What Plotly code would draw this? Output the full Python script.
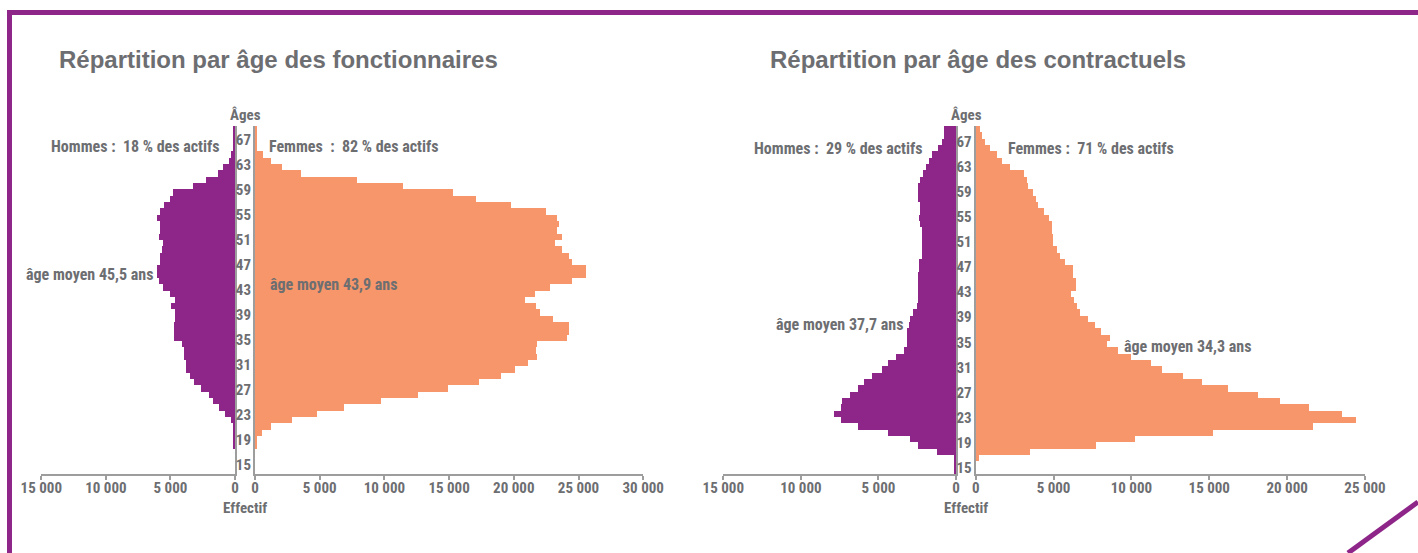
import plotly.graph_objects as go

# ---------------- data ----------------
ages = list(range(69, 14, -1))  # 69 .. 15
age_ticks = list(range(15, 68, 4))

# Fonctionnaires (effectifs)
fonc_hommes = [80, 80, 80, 80, 250, 460, 870, 1290, 2190, 3250,
               4750, 4980, 5450, 5760, 5990, 5800, 5760, 5860, 5580, 5600,
               5760, 5800, 5990, 5990, 5860, 5550, 4980, 4600, 4900, 4600,
               4600, 4730, 4730, 4730, 4100, 3900, 3900, 3740, 3740, 3430,
               3170, 2580, 2010, 1700, 1190, 720, 310, 120, 80, 80,
               80, 0, 0, 0, 0]
fonc_femmes = [100, 100, 120, 150, 600, 1240, 2060, 3560, 7900, 11400,
               15300, 17100, 19800, 22500, 23300, 23500, 23300, 23700, 23200, 23700,
               24300, 24500, 25600, 25600, 24500, 22800, 21600, 20900, 21700, 22000,
               23000, 24300, 24300, 24100, 21800, 21700, 21800, 21100, 20100, 19000,
               17300, 14900, 12600, 9700, 6900, 4800, 2860, 1240, 540, 150,
               150, 0, 0, 0, 0]

# Contractuels (effectifs)
contr_hommes = [750, 750, 860, 1150, 1500, 1720, 1900, 2100, 2320, 2410,
                2410, 2410, 2320, 2280, 2390, 2280, 2200, 2200, 2170, 2200,
                2200, 2390, 2390, 2450, 2450, 2450, 2450, 2450, 2500, 2750,
                2920, 3000, 3140, 3140, 3140, 3350, 3830, 4370, 4750, 5400,
                5940, 6320, 6800, 7300, 7370, 7830, 7370, 6320, 4370, 2930,
                2430, 1210, 120, 120, 120]
contr_femmes = [240, 390, 560, 880, 1350, 1670, 2200, 3100, 3280, 3360,
                3660, 3880, 3960, 4390, 4690, 4860, 4860, 4920, 4920, 5200,
                5370, 5720, 6230, 6230, 6420, 6420, 6120, 6300, 6490, 6680,
                7190, 7640, 8030, 8630, 8440, 9140, 9980, 11260, 11970, 13320,
                14540, 16210, 18140, 19550, 21400, 23530, 24430, 21670, 15250, 10240,
                7730, 3490, 190, 0, 0]

titles = ["Répartition par âge des fonctionnaires", "Répartition par âge des contractuels"]
hommes_txt = ["Hommes :  18 % des actifs", "Hommes :  29 % des actifs"]
femmes_txt = ["Femmes  :  82 % des actifs", "Femmes :  71 % des actifs"]
age_moyen_h = ["âge moyen 45,5 ans", "âge moyen 37,7 ans"]
age_moyen_f = ["âge moyen 43,9 ans", "âge moyen 34,3 ans"]

# ---------------- style ----------------
W, H = 1418, 553
PURPLE = "#8E2589"
ORANGE = "#F6966A"
GREY = "#6D6E71"
LINE = "#9D9D9D"
FONT = "Roboto Condensed, Open Sans Condensed, Roboto, sans-serif"
TFONT = "Liberation Sans, Arial, sans-serif"


def px(x):
    return x / W


def py(y):
    return 1 - y / H


fig = go.Figure()
series = [(fonc_hommes, PURPLE, "x", "y"), (fonc_femmes, ORANGE, "x2", "y2"),
          (contr_hommes, PURPLE, "x3", "y3"), (contr_femmes, ORANGE, "x4", "y4")]
for vals, col, xa, ya in series:
    fig.add_trace(go.Bar(y=ages, x=vals, orientation="h", width=1,
                         marker=dict(color=col, line=dict(width=0)),
                         xaxis=xa, yaxis=ya, showlegend=False, hoverinfo="x+y"))
# empty helper traces so the age-label axes are drawn
for xa, ya in [("x2", "y5"), ("x4", "y6")]:
    fig.add_trace(go.Scatter(x=[], y=[], xaxis=xa, yaxis=ya, showlegend=False, hoverinfo="skip"))

ydom = [py(474), py(126)]
xdoms = {
    "xaxis": ([px(41.3), px(235)], [15000, 0], [0, 5000, 10000, 15000]),
    "xaxis2": ([px(255), px(643.2)], [0, 30000], [0, 5000, 10000, 15000, 20000, 25000, 30000]),
    "xaxis3": ([px(723.3), px(956)], [15000, 0], [0, 5000, 10000, 15000]),
    "xaxis4": ([px(975.7), px(1365)], [0, 25000], [0, 5000, 10000, 15000, 20000, 25000]),
}
tickfont = dict(family=FONT, size=15, color=GREY, weight="bold")
layout = dict(
    template="none",
    width=W, height=H, margin=dict(l=0, r=0, t=0, b=0, pad=0, autoexpand=False),
    paper_bgcolor="white", plot_bgcolor="rgba(0,0,0,0)",
    separators=", ", bargap=0, showlegend=False,
)
for i, (name, (dom, rng, tv)) in enumerate(xdoms.items()):
    yname = "y" if i == 0 else f"y{i + 1}"
    layout[name] = dict(domain=dom, range=rng, anchor=yname, tickvals=tv, automargin=False,
                        tickformat=",d", showline=True, linecolor=LINE, linewidth=1.5,
                        ticks="outside", ticklen=4, tickcolor=LINE, tickwidth=1.5,
                        ticklabelstandoff=-5,
                        showgrid=False, zeroline=False, tickfont=tickfont, fixedrange=True)
    ax_name = "yaxis" if i == 0 else f"yaxis{i + 1}"
    xn = "x" if i == 0 else f"x{i + 1}"
    men = i % 2 == 0
    layout[ax_name] = dict(domain=ydom, range=[14.5, 69.5], anchor=xn, automargin=False,
                           side="right" if men else "left",
                           showline=True, linecolor=LINE, linewidth=1.5,
                           showgrid=False, zeroline=False, ticks="",
                           showticklabels=False, fixedrange=True)
# age label axes (labels sit in the column between the two halves)
for name, over, xn, rng in [("yaxis5", "y2", "x2", [13.56, 69.24]), ("yaxis6", "y4", "x4", [14.0, 69.5])]:
    layout[name] = dict(domain=ydom, range=rng, anchor=xn, overlaying=over, side="left",
                        automargin=False, showline=False, showgrid=False, zeroline=False,
                        ticks="", tickvals=age_ticks, tickfont=tickfont,
                        ticklabelstandoff=3, fixedrange=True)
fig.update_layout(**layout)

ann = []
centers = [245, 966]
title_x = [57, 768]
ann_pos = [
    ((222, 146), (267, 146), (155, 274), (268, 284)),
    ((925, 148), (1006, 148), (905, 324), (1122, 346)),
]
for k in range(2):
    ann.append(dict(x=px(title_x[k]), y=py(59), xref="paper", yref="paper", xanchor="left",
                    yanchor="middle", showarrow=False, text=f"<b>{titles[k]}</b>",
                    font=dict(family=TFONT, size=24, color=GREY)))
    ann.append(dict(x=px(centers[k]), y=py(115), xref="paper", yref="paper", xanchor="center",
                    yanchor="middle", showarrow=False, text="<b>Âges</b>",
                    font=dict(family=FONT, size=15, color=GREY)))
    ann.append(dict(x=px(centers[k]), y=py(508), xref="paper", yref="paper", xanchor="center",
                    yanchor="middle", showarrow=False, text="<b>Effectif</b>",
                    font=dict(family=FONT, size=15, color=GREY)))
    (hx, hy), (fx, fy), (ahx, ahy), (afx, afy) = ann_pos[k]
    for txt, x, y, anc in [(hommes_txt[k], hx, hy, "right"), (femmes_txt[k], fx, fy, "left"),
                           (age_moyen_h[k], ahx, ahy, "right"), (age_moyen_f[k], afx, afy, "left")]:
        ann.append(dict(x=px(x), y=py(y), xref="paper", yref="paper", xanchor=anc,
                        yanchor="middle", showarrow=False, text=f"<b>{txt}</b>",
                        font=dict(family=FONT, size=16, color=GREY)))
fig.update_layout(annotations=ann)

shapes = [
    dict(type="line", xref="paper", yref="paper", x0=px(7), x1=1, y0=py(12.5), y1=py(12.5),
         line=dict(color=PURPLE, width=5)),
    dict(type="line", xref="paper", yref="paper", x0=px(9.5), x1=px(9.5), y0=py(10), y1=0,
         line=dict(color=PURPLE, width=5)),
    dict(type="line", xref="paper", yref="paper", x0=px(1348), x1=1, y0=0, y1=py(502),
         line=dict(color=PURPLE, width=5)),
]
fig.update_layout(shapes=shapes)

fig.write_html("out.html", config={"displayModeBar": False},
               post_script="document.body.style.margin='0';document.body.style.padding='0';")
